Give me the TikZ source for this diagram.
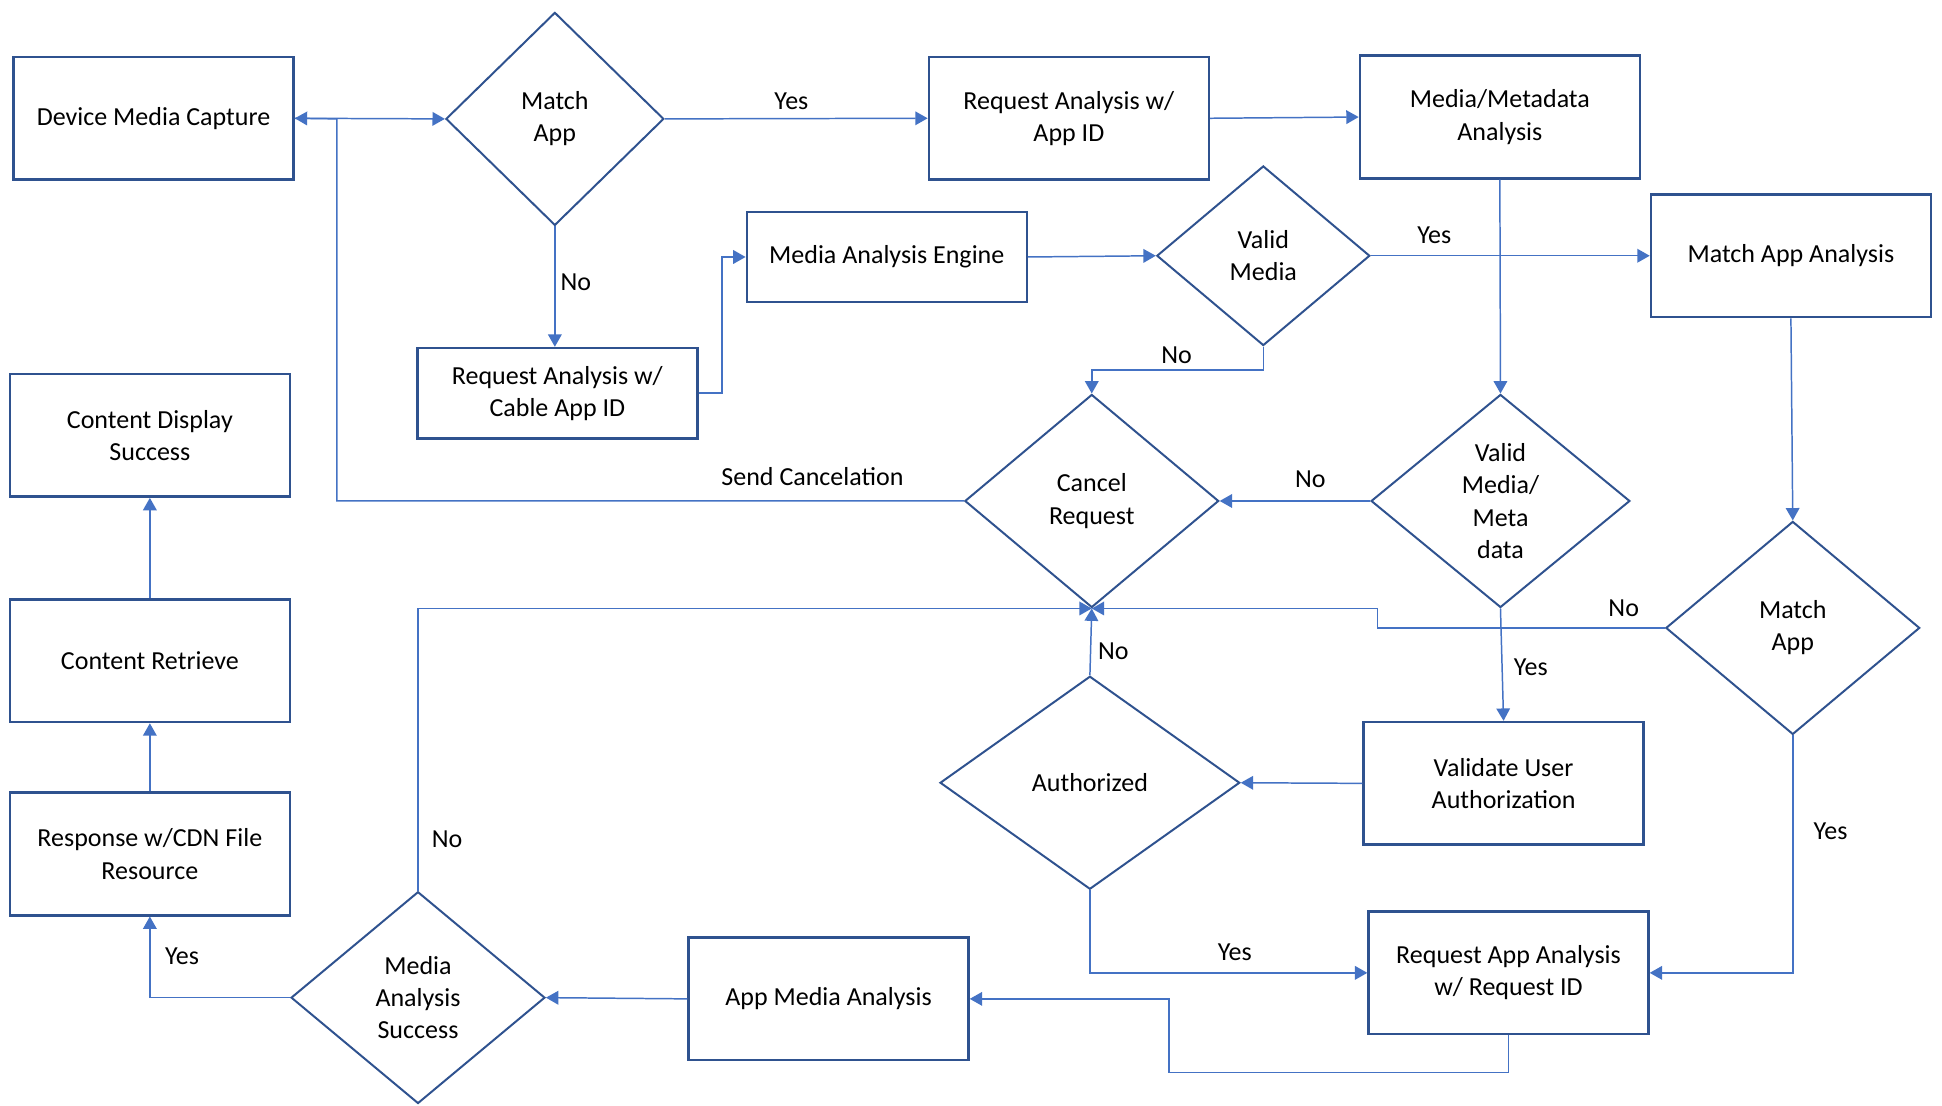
\documentclass[tikz,border=0pt]{standalone}
\usepackage{fontspec}
\setmainfont{Carlito}
\usetikzlibrary{shapes.geometric,arrows.meta}
\definecolor{boxblue}{HTML}{2F528F}
\definecolor{lineblue}{HTML}{4472C4}
\begin{document}
\begin{tikzpicture}[x=0.5pt,y=-0.5pt,
  font=\fontsize{10.5}{13}\selectfont,
  box/.style={draw=boxblue, line width=1pt, minimum width=113pt, minimum height=49.5pt, align=center, inner sep=2pt},
  shortbox/.style={box, minimum height=36.5pt},
  dec/.style={diamond, draw=boxblue, line width=0.8pt, align=center, inner sep=0pt},
  arr/.style={draw=lineblue, line width=0.6pt, -{Triangle[length=5pt,width=5.5pt]}},
  lbl/.style={inner sep=0pt}
]
\useasboundingbox[fill=white] (0,0) rectangle (1568,893);

% boxes
\node[box] (dmc) at (124,95.5) {Device Media Capture};
\node[box] (rai) at (863,95.5) {Request Analysis w/\\App ID};
\node[box] (mma) at (1211,94.5) {Media/Metadata\\Analysis};
\node[shortbox] (mae) at (716,207.5) {Media Analysis Engine};
\node[box] (maa) at (1446,206.5) {Match App Analysis};
\node[shortbox] (rc) at (450,317.5) {Request Analysis w/\\Cable App ID};
\node[box] (cds) at (121,351.5) {Content Display\\Success};
\node[box] (cr) at (121,533.5) {Content Retrieve};
\node[box] (resp) at (121,689.5) {Response w/CDN File\\Resource};
\node[box] (vua) at (1214,632.5) {Validate User\\Authorization};
\node[box] (raa) at (1218,785.5) {Request App Analysis\\w/ Request ID};
\node[box] (ama) at (669,806.5) {App Media Analysis};

% diamonds
\node[dec, minimum width=88pt, minimum height=86pt] (mA) at (448,96) {Match\\App};
\node[dec, minimum width=86pt, minimum height=72.5pt] (vm) at (1020,206.5) {Valid\\Media};
\node[dec, minimum width=102.5pt, minimum height=86pt] (cancel) at (881.5,404.5) {Cancel\\Request};
\node[dec, minimum width=104.5pt, minimum height=86pt] (vmm) at (1211.5,404.5) {Valid\\Media/\\Meta\\data};
\node[dec, minimum width=102.5pt, minimum height=86pt] (mE) at (1447.5,507) {Match\\App};
\node[dec, minimum width=121pt, minimum height=86pt] (auth) at (880,632) {Authorized};
\node[dec, minimum width=102.5pt, minimum height=85.5pt] (mas) at (337.5,805.5) {Media\\Analysis\\Success};

% helper coordinates
\coordinate (j1) at (272,96);
\coordinate (k1) at (944,866);

% connectors
\draw[arr] (dmc.east) -- (mA.west);
\draw[arr] (cancel.west) -| (j1) -- (dmc.east);
\draw[arr] (mA.east) -- (rai.west);
\draw[arr] (mA.south) -- (mA.south |- rc.north);
\draw[arr] (rc.east) -- ++(19,0) |- (mae.west);
\draw[arr] (rai.east) -- (mma.west);
\draw[arr] (mae.east) -- (vm.west);
\draw[arr] (vm.east) -- (maa.west);
\draw[arr] (vm.south) -- ++(0,19) -| (cancel.north);
\draw[arr] (mma.south) -- (vmm.north);
\draw[arr] (vmm.west) -- (cancel.east);
\draw[arr] (vmm.south) -- (vua.north);
\draw[arr] (maa.south) -- (mE.north);
\draw[arr] (mE.west) -- ++(-232,0) |- (cancel.south);
\draw[arr] (mE.south) |- (raa.east);
\draw[arr] (vua.west) -- (auth.east);
\draw[arr] (auth.north) -- (cancel.south);
\draw[arr] (auth.south) |- (raa.west);
\draw[arr] (raa.south) |- (k1) |- (ama.east);
\draw[arr] (ama.west) -- (mas.east);
\draw[arr] (mas.west) -| (resp.south);
\draw[arr] (mas.north) |- (cancel.south);
\draw[arr] (resp.north) -- (cr.south);
\draw[arr] (cr.north) -- (cds.south);

% labels
\node[lbl] (l1) at (639,82) {Yes};
\node[lbl] (l2) at (465,228) {No};
\node[lbl] (l3) at (1158,190) {Yes};
\node[lbl] (l4) at (950,287) {No};
\node[lbl] (l5) at (656,385) {Send Cancelation};
\node[lbl] (l6) at (1058,387) {No};
\node[lbl] (l7) at (1311,491) {No};
\node[lbl] (l8) at (1236,539) {Yes};
\node[lbl] (l9) at (899,526) {No};
\node[lbl] (l10) at (1478,671) {Yes};
\node[lbl] (l11) at (997,769) {Yes};
\node[lbl] (l12) at (361,678) {No};
\node[lbl] (l13) at (147,772) {Yes};
\end{tikzpicture}
\end{document}
